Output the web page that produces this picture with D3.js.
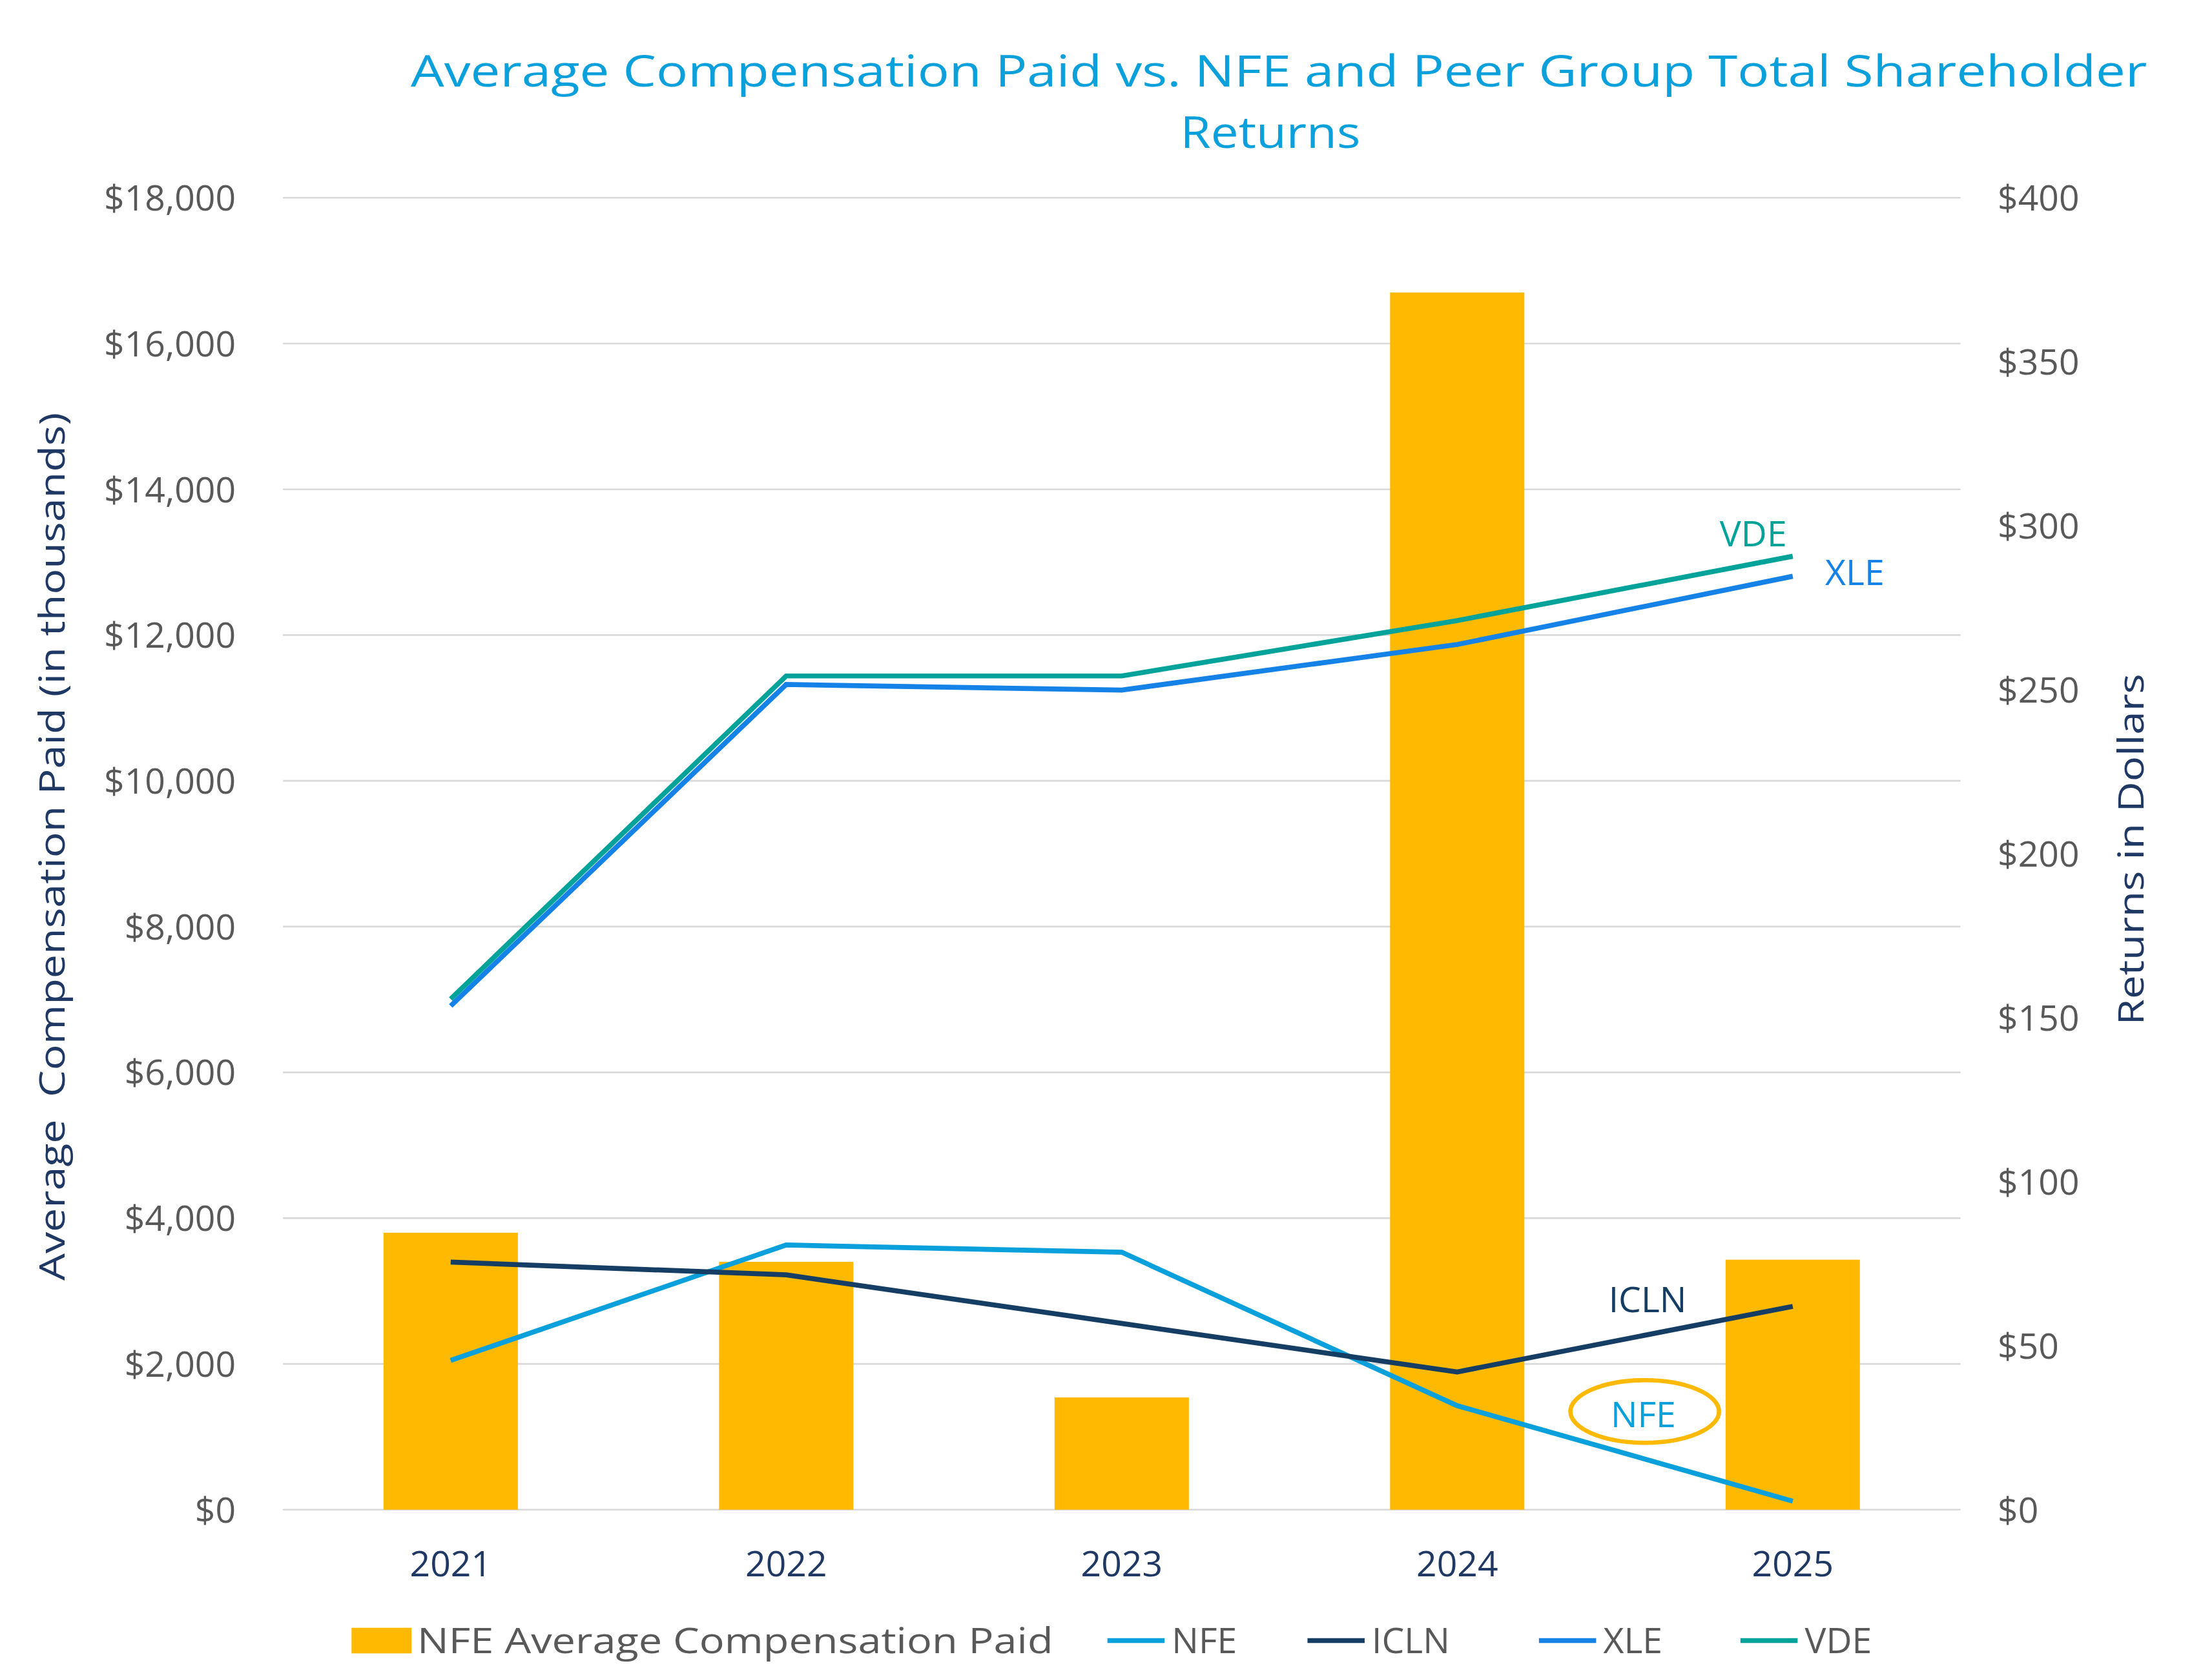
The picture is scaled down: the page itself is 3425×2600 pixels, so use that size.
<!DOCTYPE html>
<html><head><meta charset="utf-8">
<script src="https://cdn.jsdelivr.net/npm/d3@7"></script>
<style>body{margin:0;background:#fff}</style>
</head><body>
<script>
const years = ["2021","2022","2023","2024","2025"];
const compPaid = [3800, 3400, 1540, 16700, 3430];
const nfe = [45.5, 80.7, 78.5, 31.7, 2.6];
const icln = [75.5, 71.6, 56.8, 42, 62];
const xle = [153.6, 251.6, 249.9, 263.8, 284.6];
const vde = [155.7, 254.2, 254.2, 271.1, 290.7];
const leftTicks = [0,2000,4000,6000,8000,10000,12000,14000,16000,18000];
const rightTicks = [0,50,100,150,200,250,300,350,400];

const font = "'Open Sans', Lato, sans-serif";
const svg = d3.select("body").append("svg")
  .attr("width",3425).attr("height",2600)
  .attr("viewBox","0 0 1548 1180").attr("preserveAspectRatio","none")
  .style("font-family",font);

const x = d3.scaleBand().domain(years).range([198,1372]);
const yL = d3.scaleLinear().domain([0,18000]).range([1061,139]);
const yR = d3.scaleLinear().domain([0,400]).range([1061,139]);

svg.append("g").selectAll("line").data(leftTicks).join("line")
  .attr("x1",198).attr("x2",1372).attr("y1",d=>yL(d)).attr("y2",d=>yL(d))
  .attr("stroke","#d9d9d9").attr("stroke-width",1.2);

const fmt = d=>"$"+d3.format(",")(d);
svg.append("g").selectAll("text").data(leftTicks).join("text")
  .attr("x",165).attr("y",d=>yL(d)+9).attr("text-anchor","end")
  .attr("font-size",25).attr("fill","#595959").text(fmt);
svg.append("g").selectAll("text").data(rightTicks).join("text")
  .attr("x",1398).attr("y",d=>yR(d)+9).attr("text-anchor","start")
  .attr("font-size",25).attr("fill","#595959").text(fmt);

svg.append("g").selectAll("text").data(years).join("text")
  .attr("x",d=>x(d)+x.bandwidth()/2).attr("y",1108).attr("text-anchor","middle")
  .attr("font-size",25).attr("fill","#1F3864").text(d=>d);

const bw = 94;
svg.append("g").selectAll("rect").data(compPaid).join("rect")
  .attr("x",(d,i)=>x(years[i])+x.bandwidth()/2-bw/2).attr("width",bw)
  .attr("y",d=>yL(d)).attr("height",d=>yL(0)-yL(d)).attr("fill","#FFB900");

const series = [
  {name:"NFE", data:nfe, color:"#0AA0DC"},
  {name:"ICLN", data:icln, color:"#163E64"},
  {name:"XLE", data:xle, color:"#1482E6"},
  {name:"VDE", data:vde, color:"#00A39A"}
];
const line = d3.line().x((d,i)=>x(years[i])+x.bandwidth()/2).y(d=>yR(d));
series.forEach(s=>{
  svg.append("path").attr("d",line(s.data)).attr("fill","none")
    .attr("stroke",s.color).attr("stroke-width",3.5);
});

const ann = [["VDE",1227,384,"#00A39A"],["XLE",1298,411,"#1482E6"],["ICLN",1153,922,"#163E64"],["NFE",1150,1003,"#0AA0DC"]];
ann.forEach(a=>svg.append("text").attr("x",a[1]).attr("y",a[2]).attr("text-anchor","middle")
  .attr("font-size",25).attr("fill",a[3]).text(a[0]));
svg.append("ellipse").attr("cx",1151).attr("cy",992).attr("rx",52).attr("ry",22)
  .attr("fill","none").attr("stroke","#FFB900").attr("stroke-width",3);

svg.append("text").attr("x",895).attr("y",61).attr("text-anchor","middle").attr("font-size",31)
  .attr("textLength",1215).attr("lengthAdjust","spacingAndGlyphs")
  .attr("fill","#0AA0DC").text("Average Compensation Paid vs. NFE and Peer Group Total Shareholder");
svg.append("text").attr("x",889).attr("y",104).attr("text-anchor","middle").attr("font-size",31)
  .attr("textLength",126).attr("lengthAdjust","spacingAndGlyphs")
  .attr("fill","#0AA0DC").text("Returns");

svg.append("text").attr("transform","translate(45,595) rotate(-90)").attr("text-anchor","middle")
  .attr("font-size",25).attr("fill","#1F3864").attr("xml:space","preserve")
  .attr("textLength",610).attr("lengthAdjust","spacingAndGlyphs")
  .text("Average  Compensation Paid (in thousands)");
svg.append("text").attr("transform","translate(1500,597) rotate(-90)").attr("text-anchor","middle")
  .attr("font-size",25).attr("fill","#1F3864")
  .attr("textLength",247).attr("lengthAdjust","spacingAndGlyphs").text("Returns in Dollars");

const lg = svg.append("g");
lg.append("rect").attr("x",246).attr("y",1144).attr("width",42).attr("height",18).attr("fill","#FFB900");
lg.append("text").attr("x",292).attr("y",1162).attr("font-size",25).attr("fill","#595959")
  .attr("textLength",445).attr("lengthAdjust","spacingAndGlyphs").text("NFE Average Compensation Paid");
const lx = [775,915,1077,1218];
series.forEach((s,i)=>{
  lg.append("line").attr("x1",lx[i]).attr("x2",lx[i]+40).attr("y1",1153).attr("y2",1153)
    .attr("stroke",s.color).attr("stroke-width",3.5);
  lg.append("text").attr("x",lx[i]+45).attr("y",1162).attr("font-size",25).attr("fill","#595959").text(s.name);
});
</script>
</body></html>
